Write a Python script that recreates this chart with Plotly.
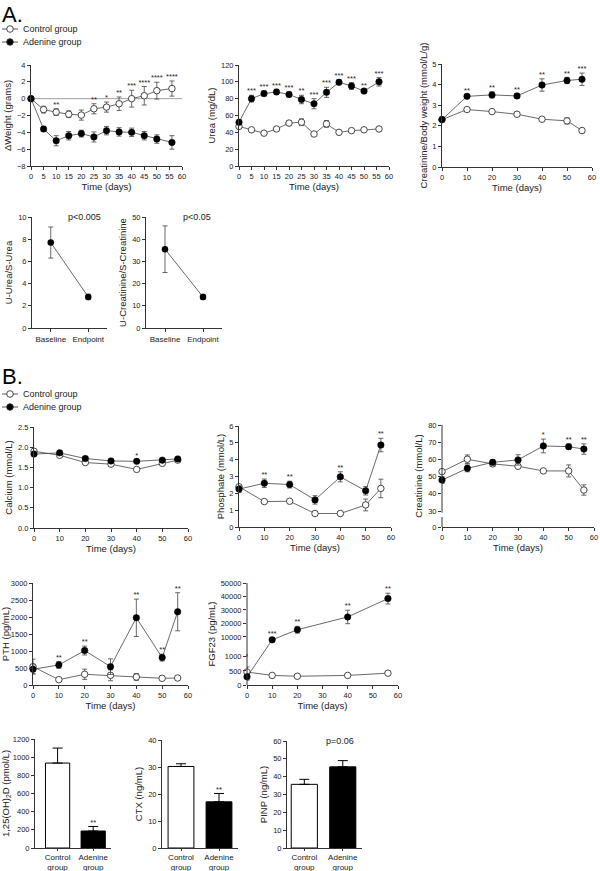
import plotly.graph_objects as go

W, H = 600, 871
FONT = "Liberation Sans, Arial, sans-serif"

# ---------------- DATA ----------------
days_a = [0, 5, 10, 15, 20, 25, 30, 35, 40, 45, 50, 56]
weight_ctrl = [0, -1.3, -1.6, -1.85, -1.95, -1.2, -1.0, -0.6, 0.0, 0.35, 0.95, 1.2]
weight_ctrl_err = [0, 0.4, 0.4, 0.4, 0.6, 0.6, 0.6, 0.8, 1.0, 1.1, 1.0, 0.9]
weight_aden = [0, -3.6, -5.0, -4.4, -4.15, -4.55, -3.8, -3.95, -4.0, -4.4, -4.8, -5.2]
weight_aden_err = [0, 0.3, 0.6, 0.5, 0.4, 0.6, 0.5, 0.5, 0.5, 0.5, 0.5, 0.8]
weight_stars = ["", "", "**", "", "", "**", "*", "**", "***", "****", "****", "****"]

urea_ctrl = [47, 43, 39, 44, 51, 52, 38, 50, 40, 42, 43, 44]
urea_ctrl_err = [2, 1, 1, 1, 3, 4, 1, 4, 2, 2, 1, 1]
urea_aden = [52, 80, 86, 88, 85, 79, 74, 87.5, 99.5, 95, 89, 100]
urea_aden_err = [3, 4, 3, 3, 3, 5, 6, 6, 3, 4, 2, 5]
urea_stars = ["", "***", "***", "***", "***", "**", "***", "***", "***", "***", "**", "***"]

days_b = [0, 10, 20, 30, 40, 50, 56]
cbw_ctrl = [2.3, 2.79, 2.69, 2.56, 2.32, 2.24, 1.77]
cbw_ctrl_err = [0.05, 0.05, 0.04, 0.04, 0.08, 0.15, 0.1]
cbw_aden = [2.3, 3.43, 3.5, 3.45, 3.98, 4.2, 4.26]
cbw_aden_err = [0.05, 0.08, 0.15, 0.1, 0.3, 0.15, 0.3]
cbw_stars = ["", "**", "**", "**", "**", "**", "***"]

ratio_labels = ["Baseline", "Endpoint"]
uurea = [7.7, 2.8]
uurea_err = [1.4, 0.25]
ucreat = [35.5, 14.0]
ucreat_err = [10.5, 1.2]

ca_ctrl = [1.90, 1.80, 1.62, 1.58, 1.45, 1.60, 1.68]
ca_ctrl_err = [0.04, 0.03, 0.03, 0.03, 0.03, 0.03, 0.05]
ca_aden = [1.83, 1.86, 1.72, 1.66, 1.65, 1.68, 1.71]
ca_aden_err = [0.03, 0.03, 0.03, 0.03, 0.03, 0.03, 0.04]
ca_stars = ["", "", "", "", "*", "", ""]

ph_ctrl = [2.39, 1.51, 1.53, 0.8, 0.8, 1.31, 2.29]
ph_ctrl_err = [0.1, 0.08, 0.08, 0.1, 0.05, 0.35, 0.55]
ph_aden = [2.25, 2.6, 2.52, 1.61, 2.98, 2.15, 4.87]
ph_aden_err = [0.2, 0.25, 0.2, 0.25, 0.3, 0.25, 0.4]
ph_stars = ["", "**", "**", "", "**", "", "**"]

cr_ctrl = [52.9, 60.1, 57.4, 56, 53.3, 53.3, 42.2]
cr_ctrl_err = [1, 2.5, 1.5, 1, 1, 3.5, 3]
cr_aden = [48, 54.8, 58.3, 59.7, 67.8, 67.4, 66]
cr_aden_err = [2, 2, 1.5, 3, 4, 1.5, 3]
cr_stars = ["", "", "", "", "*", "**", "**"]

pth_ctrl = [540, 157, 315, 285, 236, 197, 206]
pth_ctrl_err = [220, 40, 150, 160, 100, 60, 50]
pth_aden = [462, 590, 1013, 540, 1977, 806, 2154]
pth_aden_err = [130, 100, 130, 230, 550, 100, 560]
pth_stars = ["", "**", "**", "", "**", "**", "**"]

days_f = [0, 10, 20, 40, 56]
fgf_ctrl = [460, 340, 310, 340, 420]
fgf_ctrl_err = [180, 30, 20, 30, 30]
fgf_aden = [290, 7800, 15300, 24800, 38400]
fgf_aden_err = [120, 1500, 2500, 5000, 4000]
fgf_stars = ["", "***", "**", "**", "**"]
fgf_ticks = [0, 500, 1000, 10000, 20000, 30000, 40000, 50000]

bar_groups = ["Control<br>group", "Adenine<br>group"]
vitd = [935, 187]
vitd_err = [165, 50]
vitd_stars = ["", "**"]
ctx = [30.2, 17.1]
ctx_err = [1.0, 3.1]
ctx_stars = ["", "**"]
pinp = [35.7, 45.5]
pinp_err = [2.8, 3.5]
pinp_stars = ["", ""]

# ---------------- LAYOUT HELPERS ----------------
fig = go.Figure()
LINE = "#444"
AX = "#333"
TXT = "#222"
TICK = 7.5


def nm(i):
    return ("x", "y") if i == 1 else (f"x{i}", f"y{i}")


def lay(i):
    return ("xaxis", "yaxis") if i == 1 else (f"xaxis{i}", f"yaxis{i}")


axis_common = dict(showline=True, linecolor=AX, linewidth=1, ticks="outside", ticklen=3,
                   tickwidth=1, tickcolor=AX, showgrid=False, zeroline=False, automargin=False,
                   tickfont=dict(size=TICK, family=FONT, color=TXT), fixedrange=True)
title_font = dict(size=9.5, family=FONT, color=TXT)


def set_axes(i, xpx, ypx, xopts, yopts, xtitle=None, ytitle=None):
    xa, ya = nm(i)
    xl, yl = lay(i)
    xd = dict(axis_common, domain=[xpx[0] / W, xpx[1] / W], anchor=ya)
    xd.update(xopts)
    yd = dict(axis_common, domain=[1 - ypx[1] / H, 1 - ypx[0] / H], anchor=xa)
    yd.update(yopts)
    if xtitle:
        xd["title"] = dict(text=xtitle, font=title_font, standoff=2)
    if ytitle:
        yd["title"] = dict(text=ytitle, font=title_font, standoff=3)
    fig.update_layout(**{xl: xd, yl: yd})


def err(arr, color=LINE):
    return dict(type="data", array=arr, color=color, thickness=0.8, width=2.5)


def add_stars(i, xs, tops, stars):
    xa, ya = nm(i)
    keep = [k for k, s in enumerate(stars) if s]
    if not keep:
        return
    fig.add_trace(go.Scatter(
        x=[xs[k] for k in keep], y=[tops[k] for k in keep], mode="text",
        text=[stars[k] for k in keep], textposition="top center",
        textfont=dict(size=7.5, family=FONT, color=TXT), xaxis=xa, yaxis=ya,
        showlegend=False, cliponaxis=False, hoverinfo="skip"))


def timecourse(i, days, c, ce, a, ae, stars, tf=None):
    xa, ya = nm(i)
    cy, ay = c, a
    cerr, aerr = err(ce), err(ae)
    if tf is not None:
        cy = [tf(v) for v in c]
        ay = [tf(v) for v in a]
        cerr = dict(err([tf(v + e) - tf(v) for v, e in zip(c, ce)]), symmetric=False,
                    arrayminus=[tf(v) - tf(max(v - e, 0)) for v, e in zip(c, ce)])
        aerr = dict(err([tf(v + e) - tf(v) for v, e in zip(a, ae)]), symmetric=False,
                    arrayminus=[tf(v) - tf(max(v - e, 0)) for v, e in zip(a, ae)])
    fig.add_trace(go.Scatter(
        x=days, y=cy, mode="lines+markers", name="Control group", xaxis=xa, yaxis=ya,
        line=dict(color=LINE, width=0.8),
        marker=dict(symbol="circle", size=6.5, color="white", line=dict(color=AX, width=0.9)),
        error_y=cerr, cliponaxis=False, showlegend=False))
    fig.add_trace(go.Scatter(
        x=days, y=ay, mode="lines+markers", name="Adenine group", xaxis=xa, yaxis=ya,
        line=dict(color=LINE, width=0.8),
        marker=dict(symbol="circle", size=6.5, color="black", line=dict(color="black", width=0.5)),
        error_y=aerr, cliponaxis=False, showlegend=False))
    tops = [max(cv + cev, av + aev) for cv, cev, av, aev in zip(c, ce, a, ae)]
    if tf is not None:
        tops = [tf(t) for t in tops]
    add_stars(i, days, tops, stars)


def legend_block(ytop):
    # two legend rows: open circle (control), filled circle (adenine)
    for k, (label, fill) in enumerate([("Control group", "white"), ("Adenine group", "black")]):
        yc = ytop + k * 13
        fig.add_shape(type="line", xref="paper", yref="paper", x0=2 / W, x1=18 / W,
                      y0=1 - yc / H, y1=1 - yc / H, line=dict(color=LINE, width=0.9))
        r = 3.3
        fig.add_shape(type="circle", xref="paper", yref="paper", x0=(10 - r) / W, x1=(10 + r) / W,
                      y0=1 - (yc + r) / H, y1=1 - (yc - r) / H, fillcolor=fill,
                      line=dict(color=AX, width=0.9))
        fig.add_annotation(xref="paper", yref="paper", x=21 / W, y=1 - yc / H, text=label, showarrow=False,
                           font=dict(size=9, family=FONT, color=TXT), xanchor="left", yanchor="middle")


# ---------------- PANEL A ----------------
x5 = dict(range=[0, 60], tickvals=list(range(0, 61, 5)))
x10 = dict(range=[0, 60], tickvals=list(range(0, 61, 10)))

timecourse(1, days_a, weight_ctrl, weight_ctrl_err, weight_aden, weight_aden_err, weight_stars)
set_axes(1, (31, 182), (65, 166), x5, dict(range=[-8, 4], dtick=2), "Time (days)", "ΔWeight (grams)")
fig.add_shape(type="line", xref="x", yref="y", x0=0, x1=60, y0=0, y1=0, line=dict(color="#888", width=0.8), layer="below")

timecourse(2, days_a, urea_ctrl, urea_ctrl_err, urea_aden, urea_aden_err, urea_stars)
set_axes(2, (239, 389), (65, 166), x5, dict(range=[0, 120], dtick=20), "Time (days)", "Urea (mg/dL)")

timecourse(3, days_b, cbw_ctrl, cbw_ctrl_err, cbw_aden, cbw_aden_err, cbw_stars)
set_axes(3, (442, 592), (64, 167), x10, dict(range=[0, 5], dtick=1),
         "Time (days)", "Creatinine/Body weight (mmol/L/g)")

for i, vals, errs, rng, dt, yt, ptxt, pxx in [
        (4, uurea, uurea_err, [0, 10], 2, "U-Urea/S-Urea", "p<0.005", 84),
        (5, ucreat, ucreat_err, [0, 50], 10, "U-Creatinine/S-Creatinine", "p<0.05", 197)]:
    xa, ya = nm(i)
    fig.add_trace(go.Scatter(x=ratio_labels, y=vals, mode="lines+markers", xaxis=xa, yaxis=ya,
                             line=dict(color=LINE, width=0.8),
                             marker=dict(size=6.5, color="black"), error_y=err(errs),
                             showlegend=False, cliponaxis=False))
    xpx = (32, 107) if i == 4 else (146, 222)
    set_axes(i, xpx, (217, 328), dict(range=[-0.5, 1.5], tickfont=dict(size=8, family=FONT, color=TXT)),
             dict(range=rng, dtick=dt), None, yt)
    fig.add_annotation(xref="paper", yref="paper", x=pxx / W, y=1 - 217 / H, text=ptxt, showarrow=False,
                       font=dict(size=9, family=FONT, color=TXT), xanchor="center", yanchor="middle")

# ---------------- PANEL B ----------------
timecourse(6, days_b, ca_ctrl, ca_ctrl_err, ca_aden, ca_aden_err, ca_stars)
set_axes(6, (34, 188), (427, 528), x10, dict(range=[0, 2.5], dtick=0.5, tickformat=".1f"), "Time (days)", "Calcium (mmol/L)")

timecourse(7, days_b, ph_ctrl, ph_ctrl_err, ph_aden, ph_aden_err, ph_stars)
set_axes(7, (239, 391), (426, 527), x10, dict(range=[0, 6], dtick=1), "Time (days)", "Phosphate (mmol/L)")

# creatinine with broken axis (0, then 30-80)
CR_LOW = 20.7
timecourse(8, days_b, cr_ctrl, cr_ctrl_err, cr_aden, cr_aden_err, cr_stars)
set_axes(8, (442, 594), (425, 527), x10,
         dict(range=[CR_LOW, 80], tickvals=[CR_LOW, 30, 40, 50, 60, 70, 80],
              ticktext=["0", "30", "40", "50", "60", "70", "80"], showline=False),
         "Time (days)", "Creatinine (mmol/L)")
for y0, y1 in [(CR_LOW, 26.5), (29, 80)]:
    fig.add_shape(type="line", xref="x8 domain", yref="y8", x0=0, x1=0, y0=y0, y1=y1,
                  line=dict(color=AX, width=1))

timecourse(9, days_b, pth_ctrl, pth_ctrl_err, pth_aden, pth_aden_err, pth_stars)
set_axes(9, (33, 188), (583, 685), x10, dict(range=[0, 3000], dtick=500), "Time (days)", "PTH (pg/mL)")


# FGF23 with broken axis
def fgf_t(v):
    return v * 0.0282 if v <= 1100 else 36 + (v - 1000) * 0.001347


timecourse(10, days_f, fgf_ctrl, fgf_ctrl_err, fgf_aden, fgf_aden_err, fgf_stars, tf=fgf_t)
set_axes(10, (247, 398), (583, 685), x10,
         dict(range=[0, fgf_t(50000)], tickvals=[fgf_t(v) for v in fgf_ticks],
              ticktext=[str(v) for v in fgf_ticks], showline=False),
         "Time (days)", "FGF23 (pg/mL)")
for y0, y1 in [(0, fgf_t(1100)), (fgf_t(1000), fgf_t(50000))]:
    fig.add_shape(type="line", xref="x10 domain", yref="y10", x0=0, x1=0, y0=y0, y1=y1,
                  line=dict(color=AX, width=1))

# ---------------- BARS ----------------
for i, vals, errs, stars, xpx, ypx, xr, yr, dt, yt in [
        (11, vitd, vitd_err, vitd_stars, (35, 111), (739, 848), [-0.634, 1.5], [0, 1200], 200, "1,25(OH)<sub>2</sub>D (pmol/L)"),
        (12, ctx, ctx_err, ctx_stars, (162, 238), (740, 848), [-0.5, 1.5], [0, 40], 10, "CTX (ng/mL)"),
        (13, pinp, pinp_err, pinp_stars, (287, 362), (741, 848), [-0.45, 1.5], [0, 60], 10, "PINP (ng/mL)")]:
    xa, ya = nm(i)
    fig.add_trace(go.Bar(x=bar_groups, y=vals, xaxis=xa, yaxis=ya, width=0.68,
                         marker=dict(color=["white", "black"], line=dict(color="black", width=1)),
                         error_y=dict(type="data", array=errs, arrayminus=[0, 0], symmetric=False,
                                      color="black", thickness=1, width=5),
                         showlegend=False))
    add_stars(i, bar_groups, [v + e for v, e in zip(vals, errs)], stars)
    set_axes(i, xpx, ypx, dict(range=xr, type="category", ticklen=2, ticklabelstandoff=-1,
                               tickfont=dict(size=8, family=FONT, color=TXT)),
             dict(range=yr, dtick=dt), None, yt)

fig.add_annotation(xref="paper", yref="paper", x=340 / W, y=1 - 741 / H, text="p=0.06", showarrow=False,
                   font=dict(size=9, family=FONT, color=TXT), xanchor="center", yanchor="middle")

# panel letters and legends
for txt, ypx in [("A.", 0), ("B.", 362)]:
    fig.add_annotation(xref="paper", yref="paper", x=0, y=1 - ypx / H, text=txt, showarrow=False,
                       font=dict(size=22, family=FONT, color="black"), xanchor="left", yanchor="top")
legend_block(29)
legend_block(394)

fig.update_layout(
    width=W, height=H, margin=dict(l=0, r=0, t=0, b=0, pad=0, autoexpand=False),
    paper_bgcolor="white", plot_bgcolor="white",
    font=dict(family=FONT, color=TXT),
    showlegend=False,
)

fig.write_html("out.html", config={"displayModeBar": False},
               post_script="document.body.style.margin='0';document.body.style.padding='0';")
